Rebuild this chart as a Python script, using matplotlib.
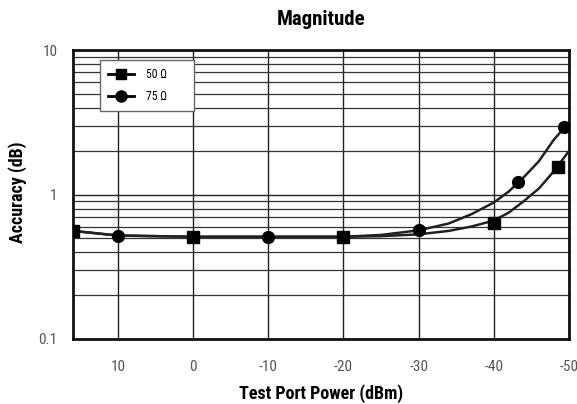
import matplotlib
matplotlib.use('Agg')
import matplotlib.pyplot as plt
from matplotlib.ticker import FixedLocator, LogLocator, NullFormatter

plt.rcParams['font.family'] = ['Roboto Condensed', 'DejaVu Sans']

# curvas
x_curva = [16, 10, 0, -10, -20, -25, -30, -34, -37, -40, -42, -44, -46, -48, -50]
curva_75 = [0.56, 0.52, 0.51, 0.51, 0.51, 0.525, 0.565, 0.63, 0.73, 0.88, 1.05, 1.32, 1.7, 2.4, 3.15]
curva_50 = [0.56, 0.52, 0.51, 0.51, 0.51, 0.515, 0.53, 0.56, 0.6, 0.66, 0.75, 0.9, 1.1, 1.45, 2.0]

# marcadores
x_50 = [16, 0, -20, -40, -48.5]
y_50 = [0.56, 0.51, 0.51, 0.64, 1.55]
x_75 = [10, -10, -30, -43.2, -49.3]
y_75 = [0.52, 0.51, 0.565, 1.22, 2.93]

x_ticks = [10, 0, -10, -20, -30, -40, -50]
x_tick_labels = ['10', '0', '-10', '-20', '-30', '-40', '-50']
y_ticks = [0.1, 1, 10]
y_tick_labels = ['0.1', '1', '10']

fig = plt.figure(figsize=(5.77, 4.04), dpi=100)
ax = fig.add_axes([0.1265, 0.161, 0.8595, 0.715])

ax.set_yscale('log')
ax.set_xlim(16, -50)
ax.set_ylim(0.1, 10)

# rejilla
ax.xaxis.set_major_locator(FixedLocator(x_ticks))
ax.set_xticklabels(x_tick_labels)
ax.yaxis.set_major_locator(FixedLocator(y_ticks))
ax.set_yticklabels(y_tick_labels)
ax.yaxis.set_minor_locator(LogLocator(base=10, subs=range(2, 10)))
ax.yaxis.set_minor_formatter(NullFormatter())
ax.grid(True, which='major', color='#222222', linewidth=1.0)
ax.grid(True, which='minor', axis='y', color='#333333', linewidth=0.9)
ax.tick_params(which='both', length=0)
ax.tick_params(axis='x', pad=15, labelsize=11, colors='#555555')
ax.tick_params(axis='y', pad=11, labelsize=11, colors='#555555')
for s in ax.spines.values():
    s.set_linewidth(2)
    s.set_color('#111111')

ax.plot(x_curva, curva_75, color='#222222', linewidth=1.8, zorder=3)
ax.plot(x_curva, curva_50, color='#222222', linewidth=1.8, zorder=3)
ax.plot(x_50, y_50, 's', color='black', markersize=8, zorder=4)
ax.plot(x_75, y_75, 'o', color='black', markersize=8.5, zorder=4)

# leyenda
h50, = ax.plot([], [], '-s', color='black', markersize=7.5, linewidth=2, label='50 Ω       ')
h75, = ax.plot([], [], '-o', color='black', markersize=8, linewidth=2, label='75 Ω       ')
leg = ax.legend(handles=[h50, h75], loc='upper left', bbox_to_anchor=(0.054, 0.965),
                fancybox=False, framealpha=1, edgecolor='#666666', fontsize=8.5,
                handlelength=2.2, borderpad=0.7, labelspacing=0.7, handletextpad=1.0,
                borderaxespad=0)
leg.get_frame().set_linewidth(1.0)

ax.set_title('Magnitude', fontsize=15, fontweight='bold', pad=18)
ax.set_xlabel('Test Port Power (dBm)', fontsize=13, fontweight='bold')
ax.set_ylabel('Accuracy (dB)', fontsize=13, fontweight='bold')
ax.xaxis.set_label_coords(0.5, -0.19)
ax.yaxis.set_label_coords(-0.111, 0.509)
ax.xaxis.label.set_va('center')
ax.yaxis.label.set_va('center')

fig.savefig('out.png', dpi=100)
